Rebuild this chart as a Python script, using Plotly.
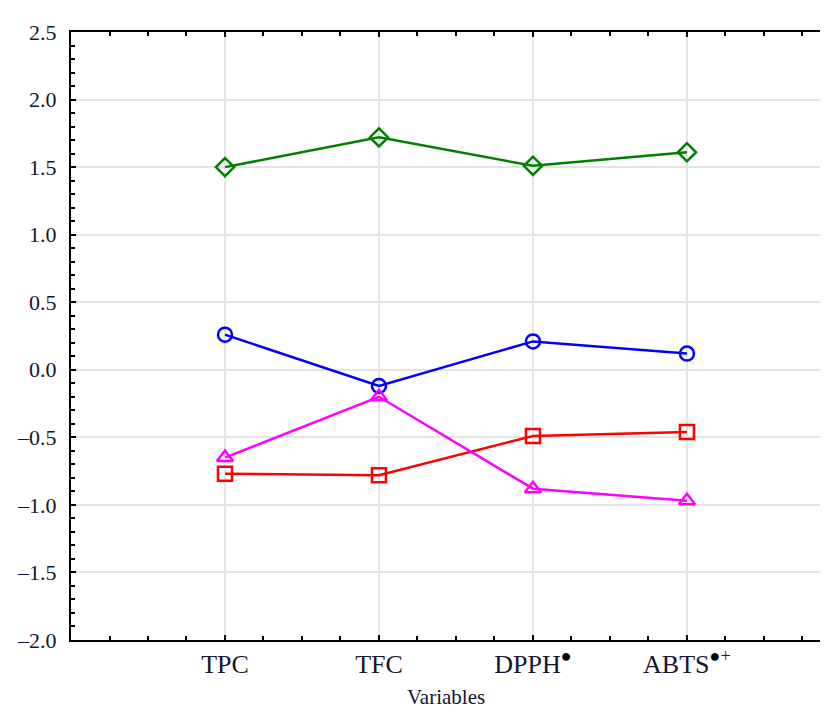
import plotly.graph_objects as go

categories = ["TPC", "TFC",
              "DPPH<sup><span style='color:black'>●</span></sup>",
              "ABTS<sup><span style='color:black'>●</span>+</sup>"]
cat_pos = [1, 2, 3, 4]

green_vals = [1.50, 1.72, 1.51, 1.61]
blue_vals = [0.26, -0.12, 0.21, 0.12]
red_vals = [-0.77, -0.78, -0.49, -0.46]
magenta_vals = [-0.65, -0.20, -0.88, -0.97]

y_ticks = [-2.0, -1.5, -1.0, -0.5, 0.0, 0.5, 1.0, 1.5, 2.0, 2.5]

series = [
    (green_vals, "#008000", "diamond-open"),
    (blue_vals, "#0000ff", "circle-open"),
    (red_vals, "#ff0000", "square-open"),
    (magenta_vals, "#ff00ff", "triangle-up-open"),
]

fig = go.Figure()
for vals, color, sym in series:
    fig.add_trace(go.Scatter(
        x=cat_pos, y=vals, mode="lines+markers",
        line=dict(color=color, width=2.5),
        marker=dict(symbol=sym, size=14, color=color, line=dict(color=color, width=2.5)),
        showlegend=False,
    ))

font_family = "Liberation Serif, Times New Roman, serif"
text_color = "#151530"

# page body has an 8px margin; figure sized to fit inside 828x720 window
fig.update_layout(
    width=812, height=704,
    margin=dict(l=63, r=0, t=24, b=72),
    paper_bgcolor="white", plot_bgcolor="white",
    font=dict(family=font_family, color=text_color),
)

fig.update_xaxes(
    range=[0, 4.864],
    automargin=False,
    tickvals=cat_pos, ticktext=categories,
    tickfont=dict(size=26, family=font_family, color=text_color),
    ticks="inside", ticklen=5, tickwidth=2, tickcolor="black",
    minor=dict(dtick=0.25, tick0=0, ticks="inside", ticklen=4, tickwidth=2, tickcolor="black", showgrid=False),
    showgrid=True, gridcolor="#e4e4e4", gridwidth=2,
    showline=True, linecolor="black", linewidth=2, mirror="ticks",
    zeroline=False,
    ticklabelstandoff=0,
)

fig.add_annotation(
    text="Variables", xref="paper", yref="paper", x=0.5, y=-0.1168,
    xanchor="center", yanchor="bottom", showarrow=False,
    font=dict(size=21, family=font_family, color=text_color),
)

fig.update_yaxes(
    range=[-2.0, 2.5],
    automargin=False,
    tickvals=y_ticks, ticktext=[f"{v:.1f}".replace("-", "–") for v in y_ticks],
    tickfont=dict(size=22, family=font_family, color=text_color),
    ticks="inside", ticklen=5, tickwidth=2, tickcolor="black",
    minor=dict(dtick=0.1, tick0=0, ticks="inside", ticklen=4, tickwidth=2, tickcolor="black", showgrid=False),
    showgrid=True, gridcolor="#e4e4e4", gridwidth=2,
    showline=True, linecolor="black", linewidth=2, mirror=False,
    zeroline=False,
    ticklabelstandoff=8,
)

fig.write_html("out.html")
